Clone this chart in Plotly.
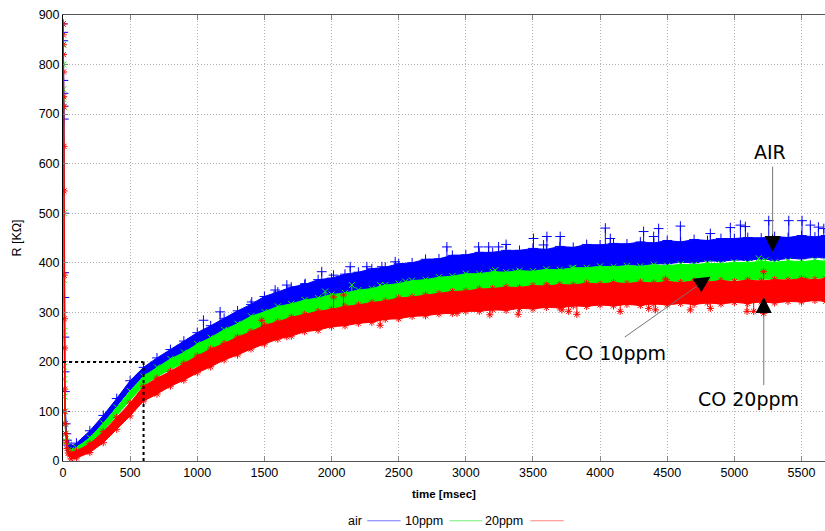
import numpy as np
import plotly.graph_objects as go

# ---------------- data ----------------
t_env = [60, 100, 200, 300, 400, 500, 600, 700, 800, 900, 1000, 1100, 1200, 1300, 1400,
         1500, 1600, 1700, 1800, 1900, 2000, 2100, 2200, 2300, 2400, 2500, 2600, 2700,
         2800, 2900, 3000, 3100, 3200, 3300, 3400, 3500, 3600, 3700, 3800, 3900, 4000,
         4100, 4200, 4300, 4400, 4500, 4600, 4700, 4800, 4900, 5000, 5100, 5200, 5300,
         5400, 5500, 5600, 5680]

air_lo = [21, 26, 47, 77, 111, 144, 171, 188, 203, 218, 232, 245, 257, 268, 281, 296, 306, 310,
          318, 322, 331, 333, 340, 343, 350, 353, 359, 361, 367, 369, 375, 375, 379, 379, 383,
          382, 387, 386, 390, 390, 393, 393, 396, 395, 398, 398, 401, 400, 404, 403, 406, 405,
          408, 405, 409, 408, 411, 410]
air_hi = [29, 36, 61, 92, 126, 162, 189, 208, 225, 242, 259, 273, 288, 303, 316, 332, 341, 351,
          356, 366, 369, 377, 381, 388, 391, 398, 400, 407, 408, 415, 416, 421, 421, 425, 425,
          429, 427, 433, 431, 437, 436, 439, 438, 442, 440, 445, 442, 447, 445, 449, 449, 451,
          450, 453, 451, 455, 452, 455]

ppm10_lo = [14, 18, 34, 61, 92, 123, 153, 170, 185, 198, 211, 224, 236, 248, 259, 270, 277, 284,
            290, 296, 301, 306, 310, 315, 320, 325, 329, 333, 336, 340, 343, 345, 347, 348, 349,
            350, 352, 353, 355, 357, 358, 358, 359, 359, 360, 360, 361, 362, 363, 364, 365, 366,
            367, 367, 368, 368, 369, 369]
ppm10_hi = [22, 27, 47, 76, 108, 141, 171, 189, 206, 219, 236, 249, 265, 277, 292, 301, 312, 317,
            325, 329, 336, 339, 345, 348, 355, 358, 364, 366, 371, 373, 378, 378, 382, 381, 384,
            383, 387, 386, 390, 390, 393, 392, 394, 393, 396, 394, 397, 396, 399, 398, 401, 400,
            403, 401, 404, 402, 405, 403]

ppm20_lo = [4, 6, 17, 37, 64, 91, 121, 135, 151, 163, 178, 190, 204, 214, 226, 236, 246, 252,
            261, 264, 271, 273, 278, 280, 286, 287, 292, 293, 297, 298, 302, 302, 305, 304, 308,
            307, 310, 309, 313, 312, 315, 313, 316, 314, 317, 315, 318, 316, 319, 317, 320, 318,
            321, 319, 322, 321, 324, 322]
ppm20_hi = [16, 20, 35, 59, 88, 117, 151, 167, 181, 197, 212, 226, 237, 250, 261, 274, 281, 290,
            296, 302, 306, 312, 315, 320, 323, 329, 331, 335, 338, 342, 343, 347, 348, 351, 350,
            354, 353, 356, 355, 359, 357, 360, 358, 361, 359, 362, 360, 363, 361, 364, 362, 365,
            363, 366, 365, 368, 366, 368]

# initial drop (t = 0 .. 60 msec)
air_start_t = [0, 1, 2, 3, 4, 5, 6, 7, 8, 9, 10, 12, 14, 17, 20, 25, 30, 40, 50, 60]
air_start_v = [882, 865, 848, 768, 742, 716, 690, 500, 380, 330, 250, 180, 140, 100, 75, 55, 42, 32, 27, 25]
ppm10_start_t = [0, 1, 2, 3, 4, 5, 6, 7, 8, 9, 10, 12, 14, 17, 20, 25, 30, 40, 50, 60]
ppm10_start_v = [882, 840, 800, 750, 730, 715, 500, 365, 262, 190, 165, 130, 100, 75, 55, 40, 30, 22, 19, 18]
ppm20_start_t = [0, 1, 2, 3, 4, 5, 6, 7, 8, 9, 10, 11, 12, 14, 17, 20, 25, 30, 40, 50, 60]
ppm20_start_v = [882, 860, 840, 820, 785, 735, 715, 635, 545, 375, 287, 228, 145, 100, 75, 55, 38, 25, 16, 12, 10]

# isolated outliers
air_spike_t = [1046, 1170, 1406, 1580, 1667, 1804, 1927, 2015, 2139, 2263, 2375, 2474, 2859, 3095,
               3170, 3244, 3300, 3504, 3579, 3604, 3703, 4039, 4076, 4324, 4399, 4436, 4598, 4821,
               4970, 5045, 5082, 5256, 5405, 5504, 5566, 5626, 5666]
air_spike_v = [284, 301, 321, 345, 355, 358, 382, 375, 392, 392, 392, 402, 432, 432, 432, 432, 437,
               449, 436, 453, 453, 470, 449, 463, 453, 469, 474, 459, 471, 476, 473, 485, 485, 485,
               476, 472, 469]
ppm10_spike_t = [1952, 2151, 2362, 2549, 3219, 3368, 3790, 5181, 5231]
ppm10_spike_v = [342, 355, 355, 362, 385, 382, 389, 409, 405]
ppm20_spike_t = [1480, 2015, 2089, 2499, 3604, 3691, 3877, 4486, 5218, 5529, 1667, 2362, 2934, 3179,
                 3390, 3716, 3766, 3827, 4150, 4362, 4412, 4672, 4821, 5094, 5144, 5218]
ppm20_spike_v = [284, 331, 335, 321, 355, 352, 352, 367, 382, 365, 251, 274, 298, 295, 296, 305, 302,
                 296, 302, 308, 305, 305, 308, 302, 302, 298]

x_ticks = [0, 500, 1000, 1500, 2000, 2500, 3000, 3500, 4000, 4500, 5000, 5500]
y_ticks = [0, 100, 200, 300, 400, 500, 600, 700, 800, 900]
series_names = ["air", "10ppm", "20ppm"]

# guide (dotted) point and arrow annotations
guide_t, guide_r = 600, 200
ann_air = dict(text="AIR", tx=5268, ty=624, tail=(5285, 597), tip=(5285, 422))
ann_10 = dict(text="CO 10ppm", tx=4113, ty=217, tail=(4173, 248), tip=(4821, 372))
ann_20 = dict(text="CO 20ppm", tx=5107, ty=126, tail=(5219, 150), tip=(5219, 331))

# ---------------- figure ----------------
BLUE, GREEN, RED = "#0000ff", "#00ff00", "#ff0000"
fig = go.Figure()

def add_series(lo, hi, st_t, st_v, sp_t, sp_v, color, symbol, msize):
    lo = np.array(lo, float); hi = np.array(hi, float)
    # dense band
    fig.add_trace(go.Scatter(x=list(t_env) + list(t_env)[::-1], y=list(hi) + list(lo[::-1]),
                             fill="toself", fillcolor=color, mode="lines",
                             line=dict(color=color, width=1), hoverinfo="skip"))
    # point markers along the band edges
    fig.add_trace(go.Scatter(x=list(t_env) + list(t_env), y=list(hi) + list(lo), mode="markers",
                             marker=dict(symbol=symbol, size=msize, color=color,
                                         line=dict(color=color, width=1)), hoverinfo="skip"))
    # initial fall
    fig.add_trace(go.Scatter(x=st_t, y=st_v, mode="lines+markers",
                             line=dict(color=color, width=1.5),
                             marker=dict(symbol=symbol, size=msize, color=color,
                                         line=dict(color=color, width=1)), hoverinfo="skip"))
    # outliers
    centre = (lo + hi) / 2
    base = np.interp(sp_t, t_env, centre)
    xs, ys = [], []
    for t, b, v in zip(sp_t, base, sp_v):
        xs += [t, t, None]; ys += [b, v, None]
    fig.add_trace(go.Scatter(x=xs, y=ys, mode="lines", line=dict(color=color, width=1),
                             hoverinfo="skip"))
    fig.add_trace(go.Scatter(x=sp_t, y=sp_v, mode="markers",
                             marker=dict(symbol=symbol, size=msize, color=color,
                                         line=dict(color=color, width=1)), hoverinfo="skip"))

add_series(air_lo, air_hi, air_start_t, air_start_v, air_spike_t, air_spike_v, BLUE, "cross-thin", 7)
add_series(ppm10_lo, ppm10_hi, ppm10_start_t, ppm10_start_v, ppm10_spike_t, ppm10_spike_v, GREEN, "x-thin", 6)
add_series(ppm20_lo, ppm20_hi, ppm20_start_t, ppm20_start_v, ppm20_spike_t, ppm20_spike_v, RED, "asterisk-open", 6)

# legend samples (custom, gnuplot style: text then sample)
leg_y = -0.134
leg_text_x = [0.3945, 0.5007, 0.6068]
leg_line = [(0.3993, 0.4430), (0.5072, 0.5501), (0.6134, 0.6570)]
leg_mark_x = [0.4215, 0.5282, 0.6352]
leg_line_col = ["rgba(70,70,255,0.75)", "rgba(70,230,70,0.75)", "rgba(255,90,90,0.75)"]
leg_col = [BLUE, "#00dd00", RED]
leg_sym = ["line-ns", "x-thin", "asterisk-open"]
fig.add_trace(go.Scatter(x=leg_mark_x, y=[leg_y] * 3, xaxis="x2", yaxis="y2", mode="markers",
                         cliponaxis=False,
                         marker=dict(symbol=leg_sym, size=7, color=leg_col,
                                     line=dict(color=leg_col, width=1.5)), hoverinfo="skip"))

shapes = []
for (x0, x1), c in zip(leg_line, leg_line_col):
    shapes.append(dict(type="line", xref="paper", yref="paper", x0=x0, x1=x1, y0=leg_y, y1=leg_y,
                       line=dict(color=c, width=1)))
# dotted guides
shapes.append(dict(type="line", xref="x", yref="y", x0=0, x1=guide_t, y0=guide_r, y1=guide_r,
                   line=dict(color="black", width=2, dash="dot"), layer="above"))
shapes.append(dict(type="line", xref="x", yref="y", x0=guide_t, x1=guide_t, y0=0, y1=guide_r,
                   line=dict(color="black", width=2, dash="dot"), layer="above"))

annotations = []
for name, xp in zip(series_names, leg_text_x):
    annotations.append(dict(text=name, xref="paper", yref="paper", x=xp, y=leg_y, xanchor="right",
                            yanchor="middle", showarrow=False,
                            font=dict(family="Liberation Sans, Arial", size=12.5, color="black")))

for a, hx, hy in [(ann_air, 0, -19), (ann_10, -15, 10), (ann_20, 0, 19)]:
    annotations.append(dict(text=a["text"], x=a["tx"], y=a["ty"], xref="x", yref="y", showarrow=False,
                            font=dict(family="DejaVu Sans", size=19, color="black")))
    annotations.append(dict(text="", x=a["tip"][0], y=a["tip"][1], ax=a["tail"][0], ay=a["tail"][1],
                            axref="x", ayref="y", xref="x", yref="y", showarrow=True, arrowhead=0,
                            arrowwidth=1, arrowcolor="#777777"))
    annotations.append(dict(text="", x=a["tip"][0], y=a["tip"][1], ax=hx, ay=hy, xref="x", yref="y",
                            showarrow=True, arrowhead=2, arrowsize=3.2, arrowwidth=1,
                            arrowcolor="black"))

GRID_DASH = "1px,2px"
fig.update_layout(
    width=825, height=531, margin=dict(l=63, r=0, t=15, b=70, autoexpand=False),
    paper_bgcolor="white", plot_bgcolor="white", showlegend=False,
    font=dict(family="Liberation Sans, Arial", size=12, color="black"),
    xaxis=dict(range=[0, 5675], tickmode="array", tickvals=x_ticks, ticktext=[str(v) for v in x_ticks],
               automargin=False,
               showgrid=True, gridcolor="#b4b4b4", griddash=GRID_DASH, gridwidth=1, zeroline=False,
               showline=True, linecolor="#555555", linewidth=1, mirror="ticks", ticks="inside",
               ticklen=5, tickcolor="#888888", tickfont=dict(size=12.5),
               title=dict(text="<b>time [msec]</b>", font=dict(size=11.5), standoff=10)),
    yaxis=dict(range=[0, 900], tickmode="array", tickvals=y_ticks, ticktext=[str(v) for v in y_ticks],
               automargin=False,
               showgrid=True, gridcolor="#b4b4b4", griddash=GRID_DASH, gridwidth=1, zeroline=False,
               showline=True, linecolor="#000000", linewidth=1, ticks="inside", ticklen=5,
               tickcolor="#888888", tickfont=dict(size=12.5),
               title=dict(text="R [KΩ]", font=dict(size=12.5), standoff=14)),
    xaxis2=dict(overlaying="x", range=[0, 1], visible=False),
    yaxis2=dict(overlaying="y", range=[0, 1], visible=False),
    shapes=shapes, annotations=annotations,
)

fig.write_html("out.html", config={"displayModeBar": False},
               post_script="document.body.style.margin='0';document.body.style.overflow='hidden';")
